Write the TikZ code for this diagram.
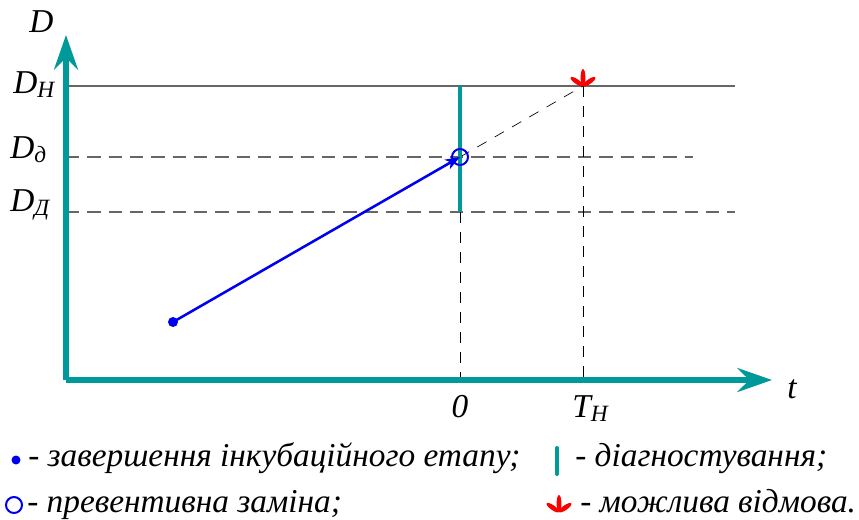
\documentclass[tikz,border=0pt]{standalone}
\usepackage{fontspec}
\setmainfont{Liberation Serif}
\usetikzlibrary{arrows.meta}
\definecolor{axteal}{RGB}{0,153,153}
\definecolor{mkblue}{RGB}{0,0,240}
\definecolor{mkred}{RGB}{250,0,0}

\tikzset{
	axis/.style={axteal, line width=3.8pt, -{Stealth[length=26pt,width=18pt,inset=9pt]}},
	levelline/.style={gray!80!black, line width=1pt},
	leveldash/.style={levelline, dash pattern=on 10pt off 6pt},
	dropdash/.style={black, line width=0.6pt, dash pattern=on 8pt off 7pt},
	diagbar/.style={axteal, line width=3pt},
	lbl/.style={font=\fontsize{25}{30}\selectfont\itshape, inner sep=0pt},
	failmark/.pic={
		\foreach \a/\l in {-55/7.5,0/8.5,55/7.5}
			\fill[mkred, rotate=\a] (0,-\l) ellipse (2.4 and \l);
	}
}

\begin{document}
\begin{tikzpicture}[x=0.75pt, y=-0.75pt]
	\useasboundingbox (0,0) rectangle (859,519);
	% key points
	\coordinate (O) at (66,380);
	\coordinate (ytop) at (66,35);
	\coordinate (xend) at (772,380);
	\coordinate (hN) at (66,86);
	\coordinate (hNe) at (735,86);
	\coordinate (hd) at (66,157);
	\coordinate (hde) at (693,157);
	\coordinate (hD) at (66,212);
	\coordinate (hDe) at (735,212);
	\coordinate (zN) at (460,86);
	\coordinate (zd) at (460,157);
	\coordinate (zD) at (460,212);
	\coordinate (z0) at (460,380);
	\coordinate (fail) at (583,86);
	\coordinate (fail0) at (583,380);
	\coordinate (start) at (173,322);

	% levels
	\draw[levelline] (hN) -- (hNe);
	\draw[leveldash] (hd) -- (hde);
	\draw[leveldash] (hD) -- (hDe);
	\draw[dropdash] (zD) -- (z0);
	\draw[dropdash] (fail) -- (fail0);
	\draw[dropdash, line width=0.5pt] (zd) -- (fail);

	% axes
	\draw[axis] (O) -- (ytop);
	\draw[axis] (O) -- (xend);

	% diagnosis, trajectory, replacement
	\draw[diagbar] (zN) -- (zD);
	\draw[mkblue, line width=1.9pt, -{Stealth[length=11pt,width=8pt,inset=3pt]}] (start) -- (zd);
	\fill[mkblue] (start) circle (5);
	\draw[mkblue, line width=1.5pt] (zd) circle (8);
	\pic at (fail) {failmark};

	% labels
	\node[lbl, anchor=base west] (lD) at (29,32) {D};
	\node[lbl, anchor=base west] (lDN) at (13,93) {D\textsubscript{Н}};
	\node[lbl, anchor=base west] (lDd) at (10,158) {D\textsubscript{д}};
	\node[lbl, anchor=base west] (lDD) at (10,211) {D\textsubscript{Д}};
	\node[lbl, anchor=base] (l0) at (460,417) {0};
	\node[lbl, anchor=base west] (lT) at (572,417) {T\textsubscript{Н}};
	\node[lbl, anchor=base west] (lt) at (787,398) {t};

	% legend
	\fill[mkblue] (16,460) circle (4.5);
	\node[lbl, anchor=base west] (leg1) at (28,466) {- завершення інкубаційного етапу;};
	\draw[diagbar, line cap=round] (557,448) -- (557,474);
	\node[lbl, anchor=base west] (leg2) at (575,466) {- діагностування;};
	\draw[mkblue, line width=1.5pt] (14,505) circle (8);
	\node[lbl, anchor=base west] (leg3) at (27,512) {- превентивна заміна;};
	\pic at (559,512) {failmark};
	\node[lbl, anchor=base west] (leg4) at (580,512) {- можлива відмова.};
\end{tikzpicture}
\end{document}
